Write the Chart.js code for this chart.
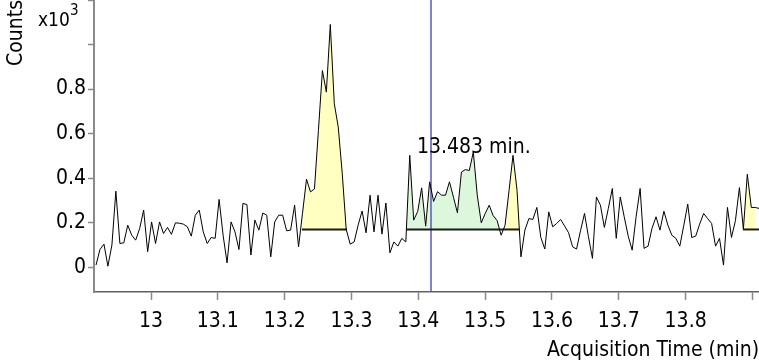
<!DOCTYPE html>
<html>
<head>
<meta charset="utf-8">
<script src="https://cdn.jsdelivr.net/npm/chart.js@4.4.1/dist/chart.umd.min.js"></script>
<style>
  html, body { margin: 0; padding: 0; background: #fff; }
  #wrap { width: 759px; height: 362px; }
</style>
</head>
<body>
<div id="wrap"><canvas id="ticChart"></canvas></div>
<script>
// scan times (min)
const scanTimes = [
    12.9177, 12.9236, 12.9296, 12.9355, 12.9415, 12.9474, 12.9534, 12.9593, 12.9652, 12.9712,
    12.9771, 12.9831, 12.9890, 12.9950, 13.0009, 13.0068, 13.0128, 13.0187, 13.0247, 13.0306,
    13.0366, 13.0425, 13.0484, 13.0544, 13.0603, 13.0663, 13.0722, 13.0782, 13.0841, 13.0900,
    13.0960, 13.1019, 13.1079, 13.1138, 13.1198, 13.1257, 13.1316, 13.1376, 13.1435, 13.1495,
    13.1554, 13.1614, 13.1673, 13.1732, 13.1792, 13.1851, 13.1911, 13.1970, 13.2030, 13.2089,
    13.2149, 13.2208, 13.2267, 13.2327, 13.2386, 13.2446, 13.2505, 13.2565, 13.2624, 13.2683,
    13.2743, 13.2802, 13.2862, 13.2921, 13.2981, 13.3040, 13.3099, 13.3159, 13.3218, 13.3278,
    13.3337, 13.3397, 13.3456, 13.3515, 13.3575, 13.3634, 13.3694, 13.3753, 13.3813, 13.3872,
    13.3931, 13.3991, 13.4050, 13.4110, 13.4169, 13.4229, 13.4288, 13.4347, 13.4407, 13.4466,
    13.4526, 13.4585, 13.4645, 13.4704, 13.4763, 13.4823, 13.4882, 13.4942, 13.5001, 13.5061,
    13.5120, 13.5179, 13.5239, 13.5298, 13.5358, 13.5417, 13.5477, 13.5536, 13.5595, 13.5655,
    13.5714, 13.5774, 13.5833, 13.5893, 13.5952, 13.6011, 13.6071, 13.6130, 13.6190, 13.6249,
    13.6309, 13.6368, 13.6427, 13.6487, 13.6546, 13.6606, 13.6665, 13.6725, 13.6784, 13.6843,
    13.6903, 13.6962, 13.7022, 13.7081, 13.7141, 13.7200, 13.7259, 13.7319, 13.7378, 13.7438,
    13.7497, 13.7557, 13.7616, 13.7675, 13.7735, 13.7794, 13.7854, 13.7913, 13.7973, 13.8032,
    13.8091, 13.8151, 13.8210, 13.8270, 13.8329, 13.8389, 13.8448, 13.8507, 13.8567, 13.8626,
    13.8686, 13.8745, 13.8805, 13.8864, 13.8923, 13.8983, 13.9042, 13.9102
];

// counts (x10^3)
const counts = [
    0.009, 0.079, 0.103, 0.004, 0.099, 0.341, 0.106, 0.109, 0.188, 0.143,
    0.121, 0.174, 0.256, 0.069, 0.203, 0.106, 0.203, 0.151, 0.178, 0.147,
    0.199, 0.197, 0.193, 0.181, 0.139, 0.233, 0.256, 0.158, 0.106, 0.133,
    0.129, 0.304, 0.143, 0.019, 0.203, 0.158, 0.079, 0.286, 0.281, 0.054,
    0.211, 0.166, 0.243, 0.233, 0.046, 0.203, 0.233, 0.233, 0.163, 0.166,
    0.278, 0.091, 0.242, 0.395, 0.338, 0.351, 0.614, 0.883, 0.786, 1.090,
    0.734, 0.629, 0.420, 0.169, 0.103, 0.113, 0.188, 0.252, 0.154, 0.323,
    0.158, 0.323, 0.148, 0.288, 0.064, 0.113, 0.094, 0.129, 0.113, 0.502,
    0.211, 0.250, 0.356, 0.184, 0.383, 0.295, 0.339, 0.323, 0.323, 0.383,
    0.314, 0.244, 0.427, 0.438, 0.434, 0.517, 0.323, 0.199, 0.241, 0.278,
    0.231, 0.209, 0.143, 0.188, 0.345, 0.502, 0.345, 0.046, 0.166, 0.218,
    0.214, 0.268, 0.133, 0.081, 0.248, 0.181, 0.196, 0.214, 0.184, 0.154,
    0.091, 0.081, 0.163, 0.241, 0.136, 0.039, 0.315, 0.278, 0.178, 0.263,
    0.353, 0.129, 0.315, 0.226, 0.139, 0.076, 0.226, 0.353, 0.084, 0.094,
    0.174, 0.226, 0.166, 0.251, 0.188, 0.143, 0.129, 0.094, 0.188, 0.283,
    0.133, 0.139, 0.193, 0.241, 0.218, 0.196, 0.094, 0.129, 0.009, 0.268,
    0.133, 0.208, 0.357, 0.169, 0.417, 0.268, 0.268, 0.263
];

// integrated peaks
const peakStarts = [13.2259, 13.3826, 13.5282, 13.886];
const peakEnds = [13.2933, 13.5282, 13.5511, 13.9098];
const peakBaselines = [0.169, 0.169, 0.169, 0.169];
const peakColors = ["#ffffc2", "#dcf7dc", "#ffffc2", "#ffffc2"];

const markerTime = 13.419;
const apexLabelTime = 13.483;
const apexLabelValue = 0.517;
const apexLabelText = "13.483 min.";

const xTickValues = [13, 13.1, 13.2, 13.3, 13.4, 13.5, 13.6, 13.7, 13.8, 13.9];
const xTickLabels = ["13", "13.1", "13.2", "13.3", "13.4", "13.5", "13.6", "13.7", "13.8", ""];
const yTickValues = [0, 0.2, 0.4, 0.6, 0.8, 1.0, 1.2];
const yTickLabels = ["0", "0.2", "0.4", "0.6", "0.8", "", ""];

const xMin = 12.9147, xMax = 13.9098;
const yMin = -0.112, yMax = 1.2;

const FONT = "'DejaVu Sans Condensed', 'Liberation Sans', sans-serif";

function tracePoints() {
    return scanTimes.map((t, i) => ({ x: t, y: counts[i] }));
}

// points of one peak, plus the neighbour on each side when it lies under the baseline
function peakPoints(start, end, base) {
    const pts = [];
    scanTimes.forEach((t, i) => {
        const inside = t >= start && t <= end;
        const before = t < start && i + 1 < scanTimes.length && scanTimes[i + 1] >= start;
        const after = t > end && i > 0 && scanTimes[i - 1] <= end;
        if (inside || ((before || after) && counts[i] < base)) {
            pts.push({ x: t, y: counts[i] });
        }
    });
    return pts;
}

const datasets = [];

datasets.push({
    label: "TIC",
    data: tracePoints(),
    borderColor: "#000",
    borderWidth: 1,
    pointRadius: 0,
    tension: 0,
    fill: false,
    order: 0
});

peakStarts.forEach((start, k) => {
    datasets.push({
        label: "peak" + k,
        data: peakPoints(start, peakEnds[k], peakBaselines[k]),
        borderWidth: 0,
        borderColor: "transparent",
        pointRadius: 0,
        tension: 0,
        fill: { target: { value: peakBaselines[k] }, above: peakColors[k], below: "transparent" },
        order: 5
    });
    datasets.push({
        label: "base" + k,
        data: [{ x: start, y: peakBaselines[k] }, { x: peakEnds[k], y: peakBaselines[k] }],
        borderColor: "#1a1a1a",
        borderWidth: 2,
        pointRadius: 0,
        fill: false,
        order: 1
    });
});

datasets.push({
    label: "marker",
    data: [{ x: markerTime, y: yMin }, { x: markerTime, y: yMax }],
    borderColor: "#5a5ab8",
    borderWidth: 1.5,
    pointRadius: 0,
    fill: false,
    order: 2
});

const textPlugin = {
    id: "ticText",
    afterDraw(chart) {
        const { ctx, scales: { x, y } } = chart;
        ctx.save();
        ctx.fillStyle = "#000";
        ctx.font = "21px " + FONT;
        ctx.textAlign = "center";
        ctx.textBaseline = "alphabetic";
        ctx.fillText(apexLabelText, x.getPixelForValue(apexLabelTime), y.getPixelForValue(apexLabelValue) + 1);

        ctx.save();
        ctx.translate(22, 33);
        ctx.rotate(-Math.PI / 2);
        ctx.fillText("Counts", 0, 0);
        ctx.restore();

        ctx.textAlign = "left";
        ctx.font = "19px " + FONT;
        ctx.fillText("x10", 38, 26);
        ctx.font = "15px " + FONT;
        ctx.fillText("3", 70, 15);
        ctx.restore();
    }
};

const ctx = document.getElementById("ticChart").getContext("2d");
new Chart(ctx, {
    type: "line",
    data: { datasets: datasets },
    options: {
        responsive: true,
        maintainAspectRatio: false,
        animation: false,
        events: [],
        layout: { padding: 0 },
        plugins: {
            legend: { display: false },
            tooltip: { enabled: false }
        },
        scales: {
            x: {
                type: "linear",
                min: xMin,
                max: xMax,
                afterBuildTicks: (scale) => { scale.ticks = xTickValues.map(v => ({ value: v })); },
                afterFit: (scale) => {
                    scale.height = 70;
                    scale.paddingLeft = 0;
                    scale.paddingRight = 0;
                },
                ticks: {
                    autoSkip: false,
                    maxRotation: 0,
                    padding: 9,
                    color: "#000",
                    font: { family: FONT, size: 21 },
                    callback: (value, index) => xTickLabels[index]
                },
                grid: {
                    drawOnChartArea: false,
                    drawTicks: true,
                    tickLength: 8,
                    tickWidth: 1.5,
                    tickColor: "#8a8a8a"
                },
                border: { display: true, color: "#606060", width: 1.5 },
                title: {
                    display: true,
                    text: "Acquisition Time (min)",
                    align: "end",
                    color: "#000",
                    font: { family: FONT, size: 21, lineHeight: 1.1 },
                    padding: { top: 0, bottom: 0 }
                }
            },
            y: {
                type: "linear",
                min: yMin,
                max: yMax,
                afterBuildTicks: (scale) => { scale.ticks = yTickValues.map(v => ({ value: v })); },
                afterFit: (scale) => {
                    scale.width = 94;
                    scale.paddingTop = 0;
                    scale.paddingBottom = 0;
                },
                ticks: {
                    autoSkip: false,
                    padding: 2,
                    color: "#000",
                    font: { family: FONT, size: 21 },
                    callback: (value, index) => yTickLabels[index]
                },
                grid: {
                    drawOnChartArea: false,
                    drawTicks: true,
                    tickLength: 6,
                    tickWidth: 1.5,
                    tickColor: "#8a8a8a"
                },
                border: { display: true, color: "#8a8a8a", width: 2 }
            }
        }
    },
    plugins: [textPlugin]
});
</script>
</body>
</html>
